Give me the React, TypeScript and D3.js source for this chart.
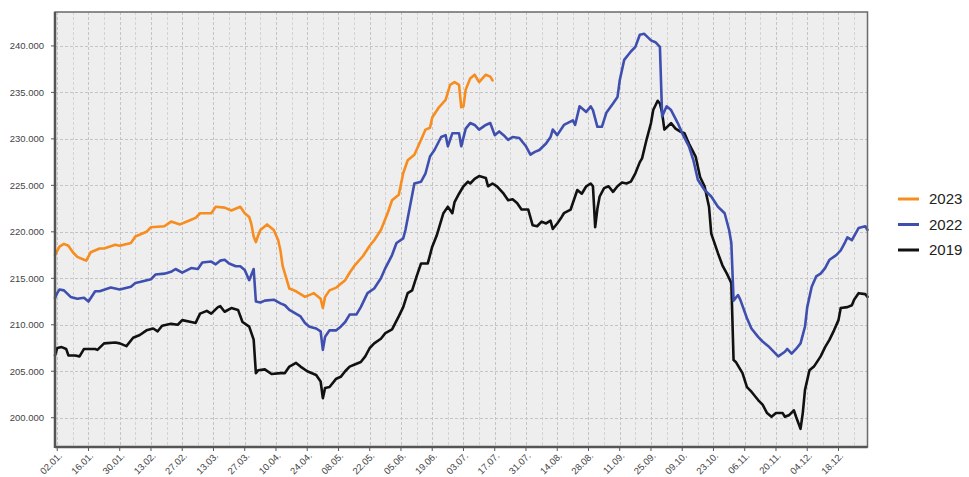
import React, { useEffect, useRef } from 'react';
import * as d3 from 'd3';

// day index: 0 = 01.01., values in thousands
const series2023: [number, number][] = [
  [0, 217.5], [2, 218.4], [4, 218.7], [6, 218.5], [8, 217.8], [10, 217.3], [13, 217.0], [14, 216.9],
  [16, 217.8], [20, 218.2], [22, 218.2], [27, 218.6], [29, 218.5], [34, 218.8], [36, 219.5], [41, 220.0],
  [43, 220.5], [49, 220.6], [52, 221.1], [56, 220.8], [61, 221.3], [63, 221.5], [65, 222.0], [70, 222.0],
  [72, 222.7], [76, 222.6], [79, 222.3], [83, 222.7], [85, 222.0], [87, 221.6], [88, 220.8], [89, 219.5],
  [90, 218.9], [91, 219.6], [92, 220.2], [95, 220.8], [98, 220.2], [100, 219.1], [101, 218.0], [102, 216.3],
  [105, 213.9], [108, 213.6], [112, 213.0], [116, 213.4], [119, 212.8], [120, 211.8], [121, 213.0], [123, 213.7],
  [126, 214.0], [130, 214.8], [132, 215.6], [134, 216.3], [138, 217.4], [141, 218.5], [143, 219.1], [146, 220.2],
  [149, 222.0], [151, 223.4], [154, 224.0], [156, 226.3], [158, 227.7], [161, 228.3], [164, 229.9], [166, 231.0],
  [168, 231.2], [169, 232.3], [172, 233.4], [175, 234.2], [177, 235.8], [179, 236.1], [181, 235.8], [182, 233.4],
  [183, 233.5], [184, 235.3], [186, 236.5], [188, 236.9], [190, 236.1], [193, 236.9], [195, 236.7], [196, 236.3],
];

const series2022: [number, number][] = [
  [0, 212.9], [1, 213.4], [2, 213.8], [4, 213.7], [7, 213.0], [10, 212.8], [13, 212.9], [15, 212.5],
  [18, 213.6], [20, 213.6], [25, 214.0], [29, 213.8], [34, 214.1], [36, 214.5], [38, 214.6], [43, 214.9],
  [45, 215.4], [49, 215.5], [52, 215.7], [54, 216.0], [57, 215.6], [61, 216.1], [64, 216.0], [66, 216.7],
  [70, 216.8], [72, 216.5], [74, 216.9], [76, 217.0], [78, 216.6], [81, 216.3], [83, 216.3], [85, 215.9],
  [87, 214.8], [89, 216.0], [90, 212.5], [92, 212.4], [94, 212.6], [98, 212.7], [101, 212.3], [103, 212.1],
  [105, 211.6], [110, 210.9], [112, 210.2], [114, 209.8], [117, 209.6], [119, 209.3], [120, 207.3], [121, 208.7],
  [123, 209.4], [126, 209.4], [128, 209.8], [130, 210.3], [132, 211.1], [135, 211.1], [137, 211.9], [140, 213.4],
  [143, 213.9], [146, 215.0], [148, 216.1], [151, 217.5], [153, 218.8], [156, 219.3], [157, 220.2], [159, 222.7],
  [161, 225.2], [164, 225.4], [166, 226.3], [168, 228.1], [170, 228.8], [173, 230.2], [175, 230.4], [176, 229.2],
  [178, 230.6], [181, 230.6], [182, 229.2], [184, 231.1], [186, 231.7], [188, 231.5], [190, 231.0], [193, 231.5],
  [195, 231.7], [197, 230.4], [199, 230.8], [201, 230.4], [203, 229.9], [205, 230.2], [208, 230.1], [211, 229.2],
  [213, 228.3], [215, 228.6], [217, 228.8], [220, 229.5], [222, 230.2], [223, 231.0], [225, 230.4], [228, 231.5],
  [232, 232.0], [233, 231.5], [235, 233.5], [238, 232.9], [240, 233.5], [241, 233.1], [243, 231.3], [245, 231.3],
  [247, 232.8], [250, 233.8], [252, 234.5], [253, 236.3], [255, 238.5], [258, 239.4], [260, 239.9], [262, 241.2],
  [264, 241.3], [267, 240.6], [269, 240.4], [271, 239.9], [272, 232.4], [274, 233.5], [276, 233.1], [279, 231.7],
  [281, 230.6], [284, 229.2], [286, 227.7], [288, 225.6], [291, 224.5], [294, 223.8], [297, 222.7], [300, 222.0],
  [302, 220.2], [303, 218.8], [304, 212.6], [306, 213.2], [307, 212.7], [310, 210.7], [312, 209.6], [315, 208.7],
  [317, 208.2], [320, 207.6], [324, 206.6], [327, 207.1], [328, 207.4], [330, 206.9], [332, 207.4], [334, 208.0],
  [336, 209.8], [337, 211.9], [339, 214.1], [341, 215.2], [343, 215.5], [345, 216.1], [347, 217.0], [350, 217.5],
  [352, 218.0], [354, 218.9], [355, 219.4], [357, 219.1], [360, 220.4], [363, 220.6], [364, 220.2],
];

const series2019: [number, number][] = [
  [0, 206.7], [1, 207.5], [3, 207.6], [5, 207.4], [6, 206.7], [9, 206.7], [11, 206.6], [13, 207.4],
  [18, 207.4], [19, 207.3], [22, 208.0], [27, 208.1], [29, 208.0], [32, 207.7], [35, 208.6], [38, 208.9],
  [41, 209.4], [44, 209.6], [46, 209.3], [48, 209.9], [52, 210.1], [55, 210.0], [57, 210.5], [61, 210.3],
  [63, 210.2], [65, 211.2], [68, 211.5], [70, 211.2], [73, 211.9], [74, 212.0], [76, 211.4], [79, 211.8],
  [82, 211.6], [84, 210.3], [87, 209.8], [89, 208.4], [90, 204.8], [91, 205.1], [94, 205.2], [97, 204.7],
  [101, 204.8], [103, 204.8], [105, 205.5], [108, 205.9], [110, 205.5], [113, 205.0], [117, 204.6], [119, 203.9],
  [120, 202.1], [121, 203.2], [123, 203.3], [126, 204.2], [128, 204.4], [130, 205.0], [132, 205.5], [134, 205.7],
  [137, 206.0], [139, 206.6], [141, 207.5], [143, 208.0], [146, 208.5], [148, 209.1], [151, 209.5], [154, 210.9],
  [156, 211.9], [158, 213.4], [160, 213.7], [162, 215.2], [164, 216.6], [167, 216.6], [169, 218.4], [171, 219.6],
  [174, 222.0], [176, 222.7], [178, 222.0], [179, 223.2], [181, 224.1], [183, 224.9], [185, 225.4], [186, 225.2],
  [188, 225.7], [190, 226.0], [193, 225.8], [194, 224.9], [196, 225.2], [198, 224.9], [201, 224.1], [203, 223.4],
  [205, 223.5], [207, 223.1], [209, 222.4], [212, 222.4], [214, 220.7], [216, 220.6], [218, 221.1], [220, 220.9],
  [222, 221.2], [223, 220.3], [225, 220.9], [227, 221.6], [228, 222.0], [231, 222.4], [233, 223.8], [234, 224.5],
  [236, 224.1], [238, 224.9], [240, 225.2], [241, 224.9], [242, 220.5], [243, 222.5], [244, 223.8], [246, 224.7],
  [248, 224.9], [250, 224.3], [252, 224.9], [254, 225.3], [256, 225.2], [258, 225.4], [260, 226.3], [262, 227.5],
  [263, 227.9], [265, 229.9], [267, 231.7], [268, 233.1], [270, 234.1], [271, 233.8], [272, 232.8], [273, 231.0],
  [276, 231.7], [278, 231.1], [280, 230.8], [282, 230.6], [284, 229.5], [287, 228.1], [289, 225.9], [291, 224.9],
  [293, 222.7], [294, 219.8], [297, 217.7], [299, 216.4], [301, 215.5], [303, 214.5], [304, 206.2], [305, 206.0],
  [308, 204.8], [310, 203.3], [312, 202.8], [315, 201.9], [317, 201.4], [319, 200.5], [321, 200.1], [323, 200.5],
  [326, 200.5], [327, 200.1], [329, 200.3], [331, 200.8], [332, 200.1], [334, 198.8], [335, 200.5], [336, 203.0],
  [338, 205.1], [340, 205.5], [343, 206.6], [345, 207.6], [347, 208.4], [349, 209.4], [351, 210.5], [352, 211.8],
  [355, 211.9], [357, 212.1], [358, 212.7], [360, 213.4], [363, 213.3], [364, 213.0],
];

const legendYears = ['2023', '2022', '2019'];
const lineColors = ['#f78c1f', '#3f4faf', '#111111'];
const yTicks = [200, 205, 210, 215, 220, 225, 230, 235, 240];
const xTickDays = d3.range(1, 352, 14);
const gridDays = d3.range(1, 365, 7);

const W = 969;
const H = 477;
const margin = { top: 12, right: 101, bottom: 30, left: 55 };

const fmtTick = d3.formatLocale({ decimal: ',', thousands: '.', grouping: [3], currency: ['', '€'] }).format(',d');
const fmtDate = d3.timeFormat('%d.%m.');

export default function App() {
  const svgRef = useRef<SVGSVGElement>(null);

  useEffect(() => {
    const svg = d3.select(svgRef.current);
    svg.selectAll('*').remove();

    const x0 = margin.left;
    const x1 = W - margin.right - 0.5;
    const y0 = margin.top;
    const y1 = H - margin.bottom;

    const x = d3.scaleLinear().domain([0, 364]).range([x0, x1]);
    const y = d3.scaleLinear().domain([196.85, 243.65]).range([y1, y0]);

    const font = '"Liberation Sans", Arial, sans-serif';

    // plot background
    svg.append('rect').attr('x', x0).attr('y', y0).attr('width', x1 - x0).attr('height', y1 - y0).attr('fill', '#eeeeee');

    // vertical grid (weekly)
    svg.append('g').selectAll('line').data(gridDays).join('line')
      .attr('x1', (d) => Math.round(x(d)) + 0.5).attr('x2', (d) => Math.round(x(d)) + 0.5)
      .attr('y1', y0).attr('y2', y1)
      .attr('stroke', (d, i) => (i % 2 === 0 ? '#c4c4c4' : '#d3d3d3'))
      .attr('stroke-dasharray', '3,2');

    // horizontal grid
    svg.append('g').selectAll('line').data(yTicks).join('line')
      .attr('x1', x0).attr('x2', x1)
      .attr('y1', (d) => Math.round(y(d)) + 0.5).attr('y2', (d) => Math.round(y(d)) + 0.5)
      .attr('stroke', '#c4c4c4').attr('stroke-dasharray', '3,2');

    // lines
    const line = d3.line<[number, number]>().x((d) => x(d[0])).y((d) => y(d[1]));
    const allSeries = [series2019, series2022, series2023];
    const seriesColors = [lineColors[2], lineColors[1], lineColors[0]];
    allSeries.forEach((s, i) => {
      svg.append('path').datum(s).attr('d', line).attr('fill', 'none')
        .attr('stroke', seriesColors[i]).attr('stroke-width', 2.6)
        .attr('stroke-linejoin', 'round').attr('stroke-linecap', 'round');
    });

    // frame
    svg.append('rect').attr('x', x0).attr('y', y0).attr('width', x1 - x0).attr('height', y1 - y0)
      .attr('fill', 'none').attr('stroke', '#6a6a6a').attr('stroke-width', 1.5);
    svg.append('line').attr('x1', x0).attr('x2', x0).attr('y1', y0).attr('y2', y1 + 1)
      .attr('stroke', '#555').attr('stroke-width', 2.5);
    svg.append('line').attr('x1', x0).attr('x2', x1).attr('y1', y1).attr('y2', y1)
      .attr('stroke', '#555').attr('stroke-width', 2.5);

    // y axis ticks + labels
    const yg = svg.append('g');
    yg.selectAll('line').data(yTicks).join('line')
      .attr('x1', x0 - 4).attr('x2', x0).attr('y1', (d) => y(d)).attr('y2', (d) => y(d))
      .attr('stroke', '#555');
    yg.selectAll('text').data(yTicks).join('text')
      .attr('x', x0 - 11).attr('y', (d) => y(d)).attr('dy', '0.35em')
      .attr('text-anchor', 'end').attr('font-family', font).attr('font-size', 9.5).attr('fill', '#444')
      .text((d) => fmtTick(d * 1000));

    // x axis ticks + labels
    const xg = svg.append('g');
    xg.selectAll('line').data(xTickDays).join('line')
      .attr('x1', (d) => x(d)).attr('x2', (d) => x(d)).attr('y1', y1).attr('y2', y1 + 4)
      .attr('stroke', '#555');
    xg.selectAll('text').data(xTickDays).join('text')
      .attr('transform', (d) => `translate(${x(d) + 3},${y1 + 7}) rotate(-45)`)
      .attr('text-anchor', 'end').attr('dy', '0.35em')
      .attr('font-family', font).attr('font-size', 9.5).attr('fill', '#444')
      .text((d) => fmtDate(d3.timeDay.offset(new Date(2022, 0, 1), d)));

    // legend
    const lg = svg.append('g');
    legendYears.forEach((yr, i) => {
      const ly = 199 + i * 25.5;
      lg.append('line').attr('x1', 898).attr('x2', 919).attr('y1', ly).attr('y2', ly)
        .attr('stroke', lineColors[i]).attr('stroke-width', 3);
      lg.append('text').attr('x', 929).attr('y', ly).attr('dy', '0.36em')
        .attr('font-family', font).attr('font-size', 15).attr('fill', '#222').text(yr);
    });
  }, []);

  return (
    <div style={{ position: 'absolute', left: 0, top: 0, width: W, height: H, background: '#fff' }}>
      <svg ref={svgRef} width={W} height={H} style={{ display: 'block' }} />
    </div>
  );
}
